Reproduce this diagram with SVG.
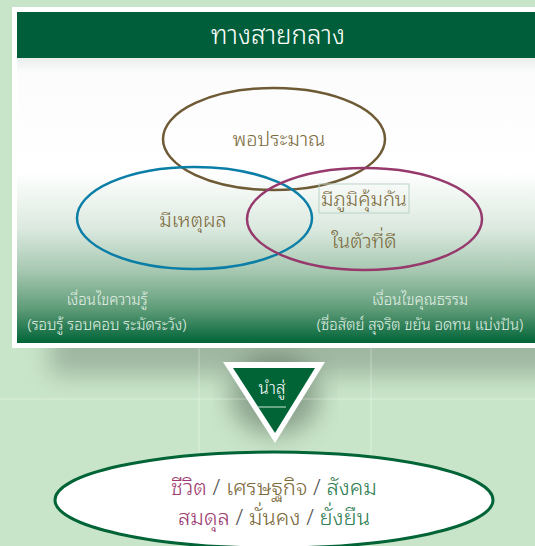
<svg xmlns="http://www.w3.org/2000/svg" width="535" height="546" viewBox="0 0 535 546">
<style>
.th{font-family:"Noto Sans Thai Looped","Noto Sans Thai","Noto Sans","DejaVu Sans",sans-serif;text-anchor:middle;font-weight:300}
.brown{fill:#7b6a3c}
.pink{fill:#9c3c70}
.grn{fill:#2f7d52}
.sl{fill:#555}
.cond{fill:#e6f2e8;font-size:15px}
</style>
<defs>
<linearGradient id="pg" x1="0" y1="0" x2="0" y2="1">
<stop offset="0" stop-color="#e9eeec"/>
<stop offset="0.05" stop-color="#fbfcfb"/>
<stop offset="0.4" stop-color="#ffffff"/>
<stop offset="0.6" stop-color="#dbe9df"/>
<stop offset="0.75" stop-color="#a5c7b0"/>
<stop offset="0.88" stop-color="#5f9c78"/>
<stop offset="1" stop-color="#006437"/>
</linearGradient>
<filter id="blur" x="-20%" y="-50%" width="140%" height="200%">
<feGaussianBlur stdDeviation="12"/>
</filter>
</defs>
<rect width="535" height="546" fill="#c9e5c9"/>
<!-- shadow -->
<rect x="50" y="330" width="520" height="45" fill="#6a7c6d" opacity="0.45" filter="url(#blur)"/>
<ellipse cx="275" cy="395" rx="45" ry="40" fill="#4d5f50" opacity="0.5" filter="url(#blur)"/>
<!-- faint grid -->
<g stroke="#ffffff" stroke-opacity="0.35" stroke-width="1">
<line x1="0" y1="399" x2="535" y2="399"/>
<line x1="199" y1="348" x2="199" y2="546"/>
<line x1="371" y1="348" x2="371" y2="546"/>
</g>
<!-- main panel -->
<g id="panel">
<rect x="12" y="7" width="530" height="341" fill="#ffffff"/>
<rect x="17" y="58" width="525" height="285" fill="url(#pg)"/>
<rect x="17" y="12" width="525" height="46" fill="#005f3a"/>
<text class="th" x="278" y="44" font-size="26" fill="#ffffff">ทางสายกลาง</text>
</g>
<g id="n-poprama">
<ellipse cx="274" cy="139" rx="111" ry="51" fill="none" stroke="#6e5a34" stroke-width="2.5"/>
<text class="th brown" x="279" y="146" font-size="20">พอประมาณ</text>
</g>
<g id="n-mihet">
<ellipse cx="194.5" cy="218" rx="117.5" ry="51" fill="none" stroke="#0a7ea6" stroke-width="2.5"/>
<text class="th brown" x="193" y="227" font-size="20">มีเหตุผล</text>
</g>
<g id="n-phum">
<ellipse cx="364.5" cy="219" rx="117.5" ry="51" fill="none" stroke="#96396c" stroke-width="2.5"/>
<rect x="319" y="184" width="90" height="29" fill="none" stroke="#b9d3c8" stroke-width="1"/>
<text class="th brown" x="364" y="206" font-size="20">มีภูมิคุ้มกัน</text>
<text class="th brown" x="364" y="248" font-size="20">ในตัวที่ดี</text>
</g>
<g id="n-cond-know">
<text class="th cond" x="107" y="305">เงื่อนไขความรู้</text>
<text class="th cond" x="107" y="330">(รอบรู้ รอบคอบ ระมัดระวัง)</text>
</g>
<g id="n-cond-moral">
<text class="th cond" x="420" y="305">เงื่อนไขคุณธรรม</text>
<text class="th cond" x="420" y="330">(ซื่อสัตย์ สุจริต ขยัน อดทน แบ่งปัน)</text>
</g>
<g id="connectors">
<g id="n-lead">
<polygon points="223,362 325,362 275,443" fill="#ffffff"/>
<polygon points="233,368 315,368 275,433" fill="#006437"/>
<line x1="257" y1="407" x2="286" y2="407" stroke="#cfe5d6" stroke-width="1"/>
<text class="th" x="272" y="394" font-size="17" fill="#ffffff">นำสู่</text>
</g>
</g>
<g id="n-result">
<ellipse cx="274" cy="500" rx="219" ry="48" fill="#ffffff" stroke="#006437" stroke-width="3"/>
<text class="th" x="274" y="495" font-size="22"><tspan class="pink">ชีวิต</tspan><tspan class="sl"> / </tspan><tspan class="brown">เศรษฐกิจ</tspan><tspan class="sl"> / </tspan><tspan class="grn">สังคม</tspan></text>
<text class="th" x="274" y="525" font-size="22"><tspan class="pink">สมดุล</tspan><tspan class="sl"> / </tspan><tspan class="brown">มั่นคง</tspan><tspan class="sl"> / </tspan><tspan class="grn">ยั่งยืน</tspan></text>
</g>
</svg>
